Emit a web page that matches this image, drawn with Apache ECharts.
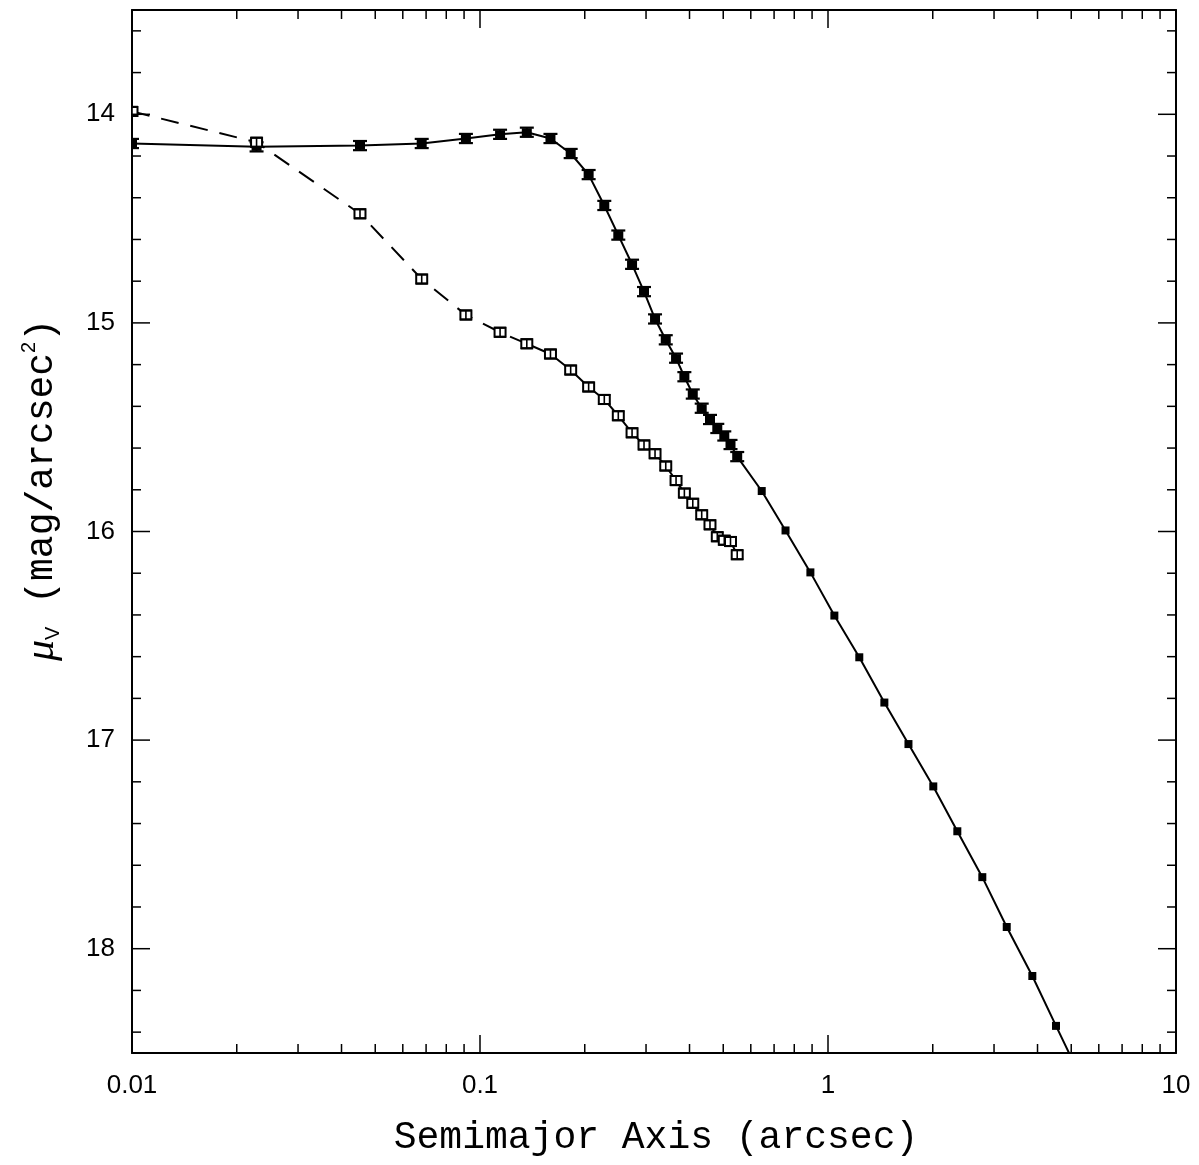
<!DOCTYPE html>
<html><head><meta charset="utf-8">
<script src="https://cdn.jsdelivr.net/npm/echarts@6/dist/echarts.min.js"></script>
<style>html,body{margin:0;padding:0;background:#fff}#c{width:1199px;height:1165px}</style>
</head><body><div id="c"></div>
<script>
// ---- data ----
const radiiInner = [0.0100, 0.0228, 0.0452, 0.0680, 0.0911, 0.1142, 0.1363, 0.1594, 0.1822, 0.2052, 0.2276, 0.2497, 0.2735, 0.2960, 0.3184, 0.3418, 0.3659, 0.3866, 0.4087, 0.4336, 0.4580, 0.4807, 0.5035, 0.5246, 0.5484];
const solidInnerMu = [14.140, 14.156, 14.150, 14.140, 14.116, 14.096, 14.086, 14.116, 14.188, 14.289, 14.437, 14.579, 14.719, 14.850, 14.981, 15.081, 15.169, 15.258, 15.341, 15.409, 15.463, 15.506, 15.542, 15.583, 15.641];
const solidInnerErr = [0.022, 0.022, 0.022, 0.022, 0.022, 0.022, 0.022, 0.022, 0.022, 0.022, 0.022, 0.022, 0.022, 0.022, 0.022, 0.022, 0.022, 0.022, 0.022, 0.022, 0.022, 0.022, 0.022, 0.022, 0.022];
const radiiOuter = [0.645, 0.755, 0.890, 1.043, 1.230, 1.452, 1.703, 2.007, 2.353, 2.776, 3.263, 3.865, 4.521, 5.30];
const solidOuterMu = [15.806, 15.995, 16.196, 16.403, 16.603, 16.820, 17.019, 17.222, 17.437, 17.657, 17.896, 18.131, 18.370, 18.61];
const openMu = [13.986, 14.134, 14.477, 14.790, 14.962, 15.045, 15.100, 15.149, 15.226, 15.307, 15.367, 15.445, 15.527, 15.585, 15.627, 15.686, 15.756, 15.816, 15.865, 15.920, 15.968, 16.025, 16.042, 16.048, 16.111];
const openErr = [0.022, 0.022, 0.022, 0.022, 0.022, 0.022, 0.022, 0.022, 0.022, 0.022, 0.022, 0.022, 0.022, 0.022, 0.022, 0.022, 0.022, 0.022, 0.022, 0.022, 0.022, 0.022, 0.022, 0.022, 0.022];
const dashedUntil = 6; // open series drawn dashed up to this index

const xTickLabels = ['0.01', '0.1', '1', '10'];
const xMinorTicks = [0.02,0.03,0.04,0.05,0.06,0.07,0.08,0.09, 0.2,0.3,0.4,0.5,0.6,0.7,0.8,0.9, 2,3,4,5,6,7,8,9];
const yMajorTicks = [14, 15, 16, 17, 18];
const yTickLabels = ['14', '15', '16', '17', '18'];
const yMinorTicks = [13.6,13.8, 14.2,14.4,14.6,14.8, 15.2,15.4,15.6,15.8, 16.2,16.4,16.6,16.8, 17.2,17.4,17.6,17.8, 18.2,18.4];

// ---- build ----
const solidAll = radiiInner.map((r, i) => [r, solidInnerMu[i]])
  .concat(radiiOuter.map((r, i) => [r, solidOuterMu[i]]));
const solidMarkers = radiiInner.map((r, i) => [r, solidInnerMu[i], solidInnerErr[i]])
  .concat(radiiOuter.map((r, i) => [r, solidOuterMu[i], 0]));
const openAll = radiiInner.map((r, i) => [r, openMu[i]]);
const openMarkers = radiiInner.map((r, i) => [r, openMu[i], openErr[i]]);
const tickData = xMinorTicks.map(v => [v, 16, 0])
  .concat(yMajorTicks.map(v => [1, v, 1]))
  .concat(yMinorTicks.map(v => [1, v, 2]));

const chart = echarts.init(document.getElementById('c'));
const black = '#000';
const labelFont = 'Liberation Sans, Arial, Helvetica, sans-serif';
const titleFont = 'Liberation Mono, Courier New, monospace';

function xAxisCfg(pos, showLabel) {
  return {
    type: 'log', logBase: 10, min: 0.01, max: 10, position: pos,
    axisLine: { show: true, onZero: false, lineStyle: { color: black, width: 2 } },
    axisTick: { show: true, inside: true, length: 18, lineStyle: { color: black, width: 1.5 } },
    axisLabel: {
      show: showLabel, color: black, fontSize: 26, fontFamily: labelFont, margin: 20,
      showMinLabel: true, showMaxLabel: true,
      formatter: v => xTickLabels[Math.round(Math.log10(v)) + 2] || ''
    },
    splitLine: { show: false }
  };
}
function yAxisCfg(pos, showLabel) {
  return {
    type: 'value', inverse: true, min: 13.5, max: 18.5, interval: 0.5, position: pos,
    axisLine: { show: true, onZero: false, lineStyle: { color: black, width: 2 } },
    axisTick: { show: false },
    axisLabel: {
      show: showLabel, color: black, fontSize: 26, fontFamily: labelFont, margin: 17,
      formatter: v => { const k = yMajorTicks.indexOf(Math.round(v * 10) / 10); return k >= 0 ? yTickLabels[k] : ''; }
    },
    splitLine: { show: false }
  };
}

function solidMarker(params, api) {
  const x = api.value(0), y = api.value(1), e = api.value(2);
  const p = api.coord([x, y]);
  const ch = [];
  if (e > 0) {
    const t = api.coord([x, y - e]), b = api.coord([x, y + e]);
    ch.push({ type: 'line', shape: { x1: p[0], y1: t[1], x2: p[0], y2: b[1] }, style: { stroke: black, lineWidth: 2 } });
    ch.push({ type: 'line', shape: { x1: p[0] - 7, y1: t[1], x2: p[0] + 7, y2: t[1] }, style: { stroke: black, lineWidth: 2.2 } });
    ch.push({ type: 'line', shape: { x1: p[0] - 7, y1: b[1], x2: p[0] + 7, y2: b[1] }, style: { stroke: black, lineWidth: 2.2 } });
    ch.push({ type: 'rect', shape: { x: p[0] - 5, y: p[1] - 4, width: 10, height: 8 }, style: { fill: black } });
  } else {
    ch.push({ type: 'rect', shape: { x: p[0] - 4, y: p[1] - 4, width: 8, height: 8 }, style: { fill: black } });
  }
  return { type: 'group', children: ch };
}
function openMarker(params, api) {
  const x = api.value(0), y = api.value(1), e = api.value(2);
  const p = api.coord([x, y]);
  const t = api.coord([x, y - e]), b = api.coord([x, y + e]);
  return { type: 'group', children: [
    { type: 'rect', shape: { x: p[0] - 5.5, y: p[1] - 4.5, width: 11, height: 9 }, style: { fill: '#fff', stroke: black, lineWidth: 2 } },
    { type: 'line', shape: { x1: p[0], y1: t[1], x2: p[0], y2: b[1] }, style: { stroke: black, lineWidth: 1.6 } },
    { type: 'line', shape: { x1: p[0] - 6, y1: t[1], x2: p[0] + 6, y2: t[1] }, style: { stroke: black, lineWidth: 2 } },
    { type: 'line', shape: { x1: p[0] - 6, y1: b[1], x2: p[0] + 6, y2: b[1] }, style: { stroke: black, lineWidth: 2 } }
  ]};
}
function tickRender(params, api) {
  const cs = params.coordSys;
  const kind = api.value(2);
  const p = api.coord([api.value(0), api.value(1)]);
  const st = { stroke: black, lineWidth: 1.5 };
  const bottom = cs.y + cs.height, right = cs.x + cs.width;
  if (kind === 0) {
    return { type: 'group', children: [
      { type: 'line', shape: { x1: p[0], y1: bottom, x2: p[0], y2: bottom - 9 }, style: st },
      { type: 'line', shape: { x1: p[0], y1: cs.y, x2: p[0], y2: cs.y + 9 }, style: st }
    ]};
  }
  const len = kind === 1 ? 18 : 9;
  return { type: 'group', children: [
    { type: 'line', shape: { x1: cs.x, y1: p[1], x2: cs.x + len, y2: p[1] }, style: st },
    { type: 'line', shape: { x1: right, y1: p[1], x2: right - len, y2: p[1] }, style: st }
  ]};
}

chart.setOption({
  animation: false,
  backgroundColor: '#fff',
  grid: { left: 132, right: 23, top: 10, bottom: 112, containLabel: false, outerBoundsMode: 'none' },
  xAxis: [xAxisCfg('bottom', true), xAxisCfg('top', false)],
  yAxis: [yAxisCfg('left', true), yAxisCfg('right', false)],
  graphic: [
    { type: 'text', x: 656, y: 1138, z: 10,
      style: { text: 'Semimajor Axis (arcsec)', fill: black, font: '38px ' + titleFont, textAlign: 'center', textVerticalAlign: 'middle' } },
    { type: 'text', x: 42, y: 490, rotation: Math.PI / 2, z: 10,
      style: {
        text: '{mu|μ}{sub|V}{m| (mag/arcsec}{sup|2}{m|)}',
        align: 'center', verticalAlign: 'middle', fill: black,
        rich: {
          mu: { fontSize: 42, fontStyle: 'italic', fontFamily: 'Liberation Serif, Times New Roman, serif', lineHeight: 46, verticalAlign: 'middle', fill: black },
          sub: { fontSize: 20, fontFamily: labelFont, lineHeight: 46, verticalAlign: 'bottom', fill: black, padding: [0, 0, 2, 0] },
          m: { fontSize: 38, fontFamily: titleFont, lineHeight: 46, verticalAlign: 'middle', fill: black },
          sup: { fontSize: 20, fontFamily: labelFont, lineHeight: 46, verticalAlign: 'top', fill: black, padding: [0, 0, 0, 0] }
        }
      } }
  ],
  series: [
    { type: 'line', data: solidAll, xAxisIndex: 0, yAxisIndex: 0, showSymbol: false, clip: true,
      lineStyle: { color: black, width: 2 }, z: 2 },
    { type: 'line', data: openAll.slice(0, dashedUntil + 1), showSymbol: false, clip: true,
      lineStyle: { color: black, width: 2, type: [18, 12] }, z: 2 },
    { type: 'line', data: openAll.slice(dashedUntil), showSymbol: false, clip: true,
      lineStyle: { color: black, width: 2 }, z: 2 },
    { type: 'custom', data: solidMarkers, renderItem: solidMarker, clip: true, z: 4 },
    { type: 'custom', data: openMarkers, renderItem: openMarker, clip: true, z: 4 },
    { type: 'custom', data: tickData, renderItem: tickRender, clip: false, z: 5, silent: true }
  ]
});
</script></body></html>
